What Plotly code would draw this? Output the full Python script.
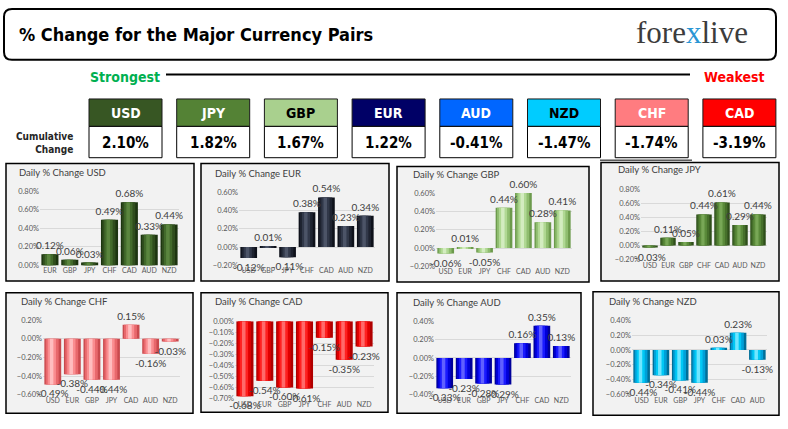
import plotly.graph_objects as go

W, H = 788, 429

# ---------------- data ----------------
currencies = ["USD", "JPY", "GBP", "EUR", "AUD", "NZD", "CHF", "CAD"]
cumulative = [2.10, 1.82, 1.67, 1.22, -0.41, -1.47, -1.74, -3.19]

usd_cats = ["EUR", "GBP", "JPY", "CHF", "CAD", "AUD", "NZD"]
usd_vals = [0.12, 0.06, 0.03, 0.49, 0.68, 0.33, 0.44]
eur_cats = ["USD", "GBP", "JPY", "CHF", "CAD", "AUD", "NZD"]
eur_vals = [-0.12, 0.01, -0.11, 0.38, 0.54, 0.23, 0.34]
gbp_cats = ["USD", "EUR", "JPY", "CHF", "CAD", "AUD", "NZD"]
gbp_vals = [-0.06, 0.01, -0.05, 0.44, 0.60, 0.28, 0.41]
jpy_cats = ["USD", "EUR", "GBP", "CHF", "CAD", "AUD", "NZD"]
jpy_vals = [-0.03, 0.11, 0.05, 0.44, 0.61, 0.29, 0.44]
chf_cats = ["USD", "EUR", "GBP", "JPY", "CAD", "AUD", "NZD"]
chf_vals = [-0.49, -0.38, -0.44, -0.44, 0.15, -0.16, -0.03]
cad_cats = ["USD", "EUR", "GBP", "JPY", "CHF", "AUD", "NZD"]
cad_vals = [-0.68, -0.54, -0.60, -0.61, -0.15, -0.35, -0.23]
aud_cats = ["USD", "EUR", "GBP", "JPY", "CHF", "CAD", "NZD"]
aud_vals = [-0.33, -0.23, -0.28, -0.29, 0.16, 0.35, 0.13]
nzd_cats = ["USD", "EUR", "GBP", "JPY", "CHF", "CAD", "AUD"]
nzd_vals = [-0.44, -0.34, -0.41, -0.44, 0.03, 0.23, -0.13]

# ---------------- styles ----------------
header_fill = ["#375623", "#548235", "#a9d08e", "#000066", "#0066ff", "#00ccff", "#ff7c80", "#ff0000"]
header_font = ["white", "white", "black", "white", "white", "black", "white", "white"]

COND = "Liberation Sans Narrow, DejaVu Sans Condensed, Roboto, sans-serif"
CHART = "Lato, Liberation Sans, sans-serif"


def X(px):
    return px / W


def Y(py):
    return 1 - py / H


panels = [
    dict(title="Daily % Change USD", cats=usd_cats, vals=usd_vals, box=(6, 163, 194, 283), tpos=(17, 172),
         px=(40, 179), py=(191, 267), rng=(0, 0.8), dt=0.2,
         cols=["#1c3410", "#2f4d1d", "#426a2b", "#5a853e"]),
    dict(title="Daily % Change EUR", cats=eur_cats, vals=eur_vals, box=(201, 163, 389, 283), tpos=(213, 173),
         px=(239, 375), py=(192, 267), rng=(-0.2, 0.6), dt=0.2,
         cols=["#0e111a", "#1e2330", "#313849", "#4c5467"]),
    dict(title="Daily % Change GBP", cats=gbp_cats, vals=gbp_vals, box=(397, 166, 589, 284), tpos=(411, 174),
         px=(436, 572), py=(193, 268), rng=(-0.2, 0.6), dt=0.2,
         cols=["#6c9a4c", "#8fbd6f", "#b0d893", "#d3ecc0"]),
    dict(title="Daily % Change JPY", cats=jpy_cats, vals=jpy_vals, box=(601, 162, 779, 283), tpos=(616, 169),
         px=(641, 767), py=(189, 261), rng=(-0.2, 0.8), dt=0.2,
         cols=["#2f4f1b", "#46702b", "#5a8a3a", "#78a756"]),
    dict(title="Daily % Change CHF", cats=chf_cats, vals=chf_vals, box=(6, 295, 193, 418), tpos=(19, 304),
         px=(43, 180), py=(323, 399), rng=(-0.6, 0.2), dt=0.2,
         cols=["#c94a4e", "#e8686c", "#fa8d90", "#ffbdbf"]),
    dict(title="Daily % Change CAD", cats=cad_cats, vals=cad_vals, box=(201, 295, 388, 417), tpos=(213, 304),
         px=(235, 374), py=(324, 403), rng=(-0.7, 0.0), dt=0.1,
         cols=["#b00000", "#e00000", "#ff2020", "#ff6a6a"]),
    dict(title="Daily % Change AUD", cats=aud_cats, vals=aud_vals, box=(397, 295, 581, 418), tpos=(411, 305),
         px=(435, 571), py=(324, 399), rng=(-0.4, 0.4), dt=0.2,
         cols=["#00009a", "#0000d8", "#1a1aff", "#6060ff"]),
    dict(title="Daily % Change NZD", cats=nzd_cats, vals=nzd_vals, box=(593, 294, 779, 420), tpos=(607, 304),
         px=(632, 767), py=(323, 399), rng=(-0.6, 0.4), dt=0.2,
         cols=["#006f98", "#00a0d8", "#00c8f5", "#70e6ff"]),
]

fig = go.Figure()
shapes = []
annotations = []


def rrect(x0, y0, x1, y1, r):
    pts = [("M", x0 + r, y0), ("L", x1 - r, y0), ("Q", x1, y0, x1, y0 + r), ("L", x1, y1 - r),
           ("Q", x1, y1, x1 - r, y1), ("L", x0 + r, y1), ("Q", x0, y1, x0, y1 - r), ("L", x0, y0 + r),
           ("Q", x0, y0, x0 + r, y0)]
    s = ""
    for p in pts:
        cmd = p[0]
        coords = p[1:]
        parts = []
        for i in range(0, len(coords), 2):
            parts.append(f"{X(coords[i]):.5f},{Y(coords[i+1]):.5f}")
        s += cmd + " " + " ".join(parts) + " "
    return s + "Z"


# header box
shapes.append(dict(type="path", path=rrect(4, 5, 776, 57, 8), xref="paper", yref="paper",
                   line=dict(color="black", width=2), fillcolor="white", layer="below"))
annotations.append(dict(text="<b>% Change for the Major Currency Pairs</b>", x=X(17), y=Y(31), xref="paper",
                        yref="paper", xanchor="left", yanchor="middle", showarrow=False,
                        font=dict(family=COND, size=18, color="black")))
annotations.append(dict(text="fore<span style='color:#2a96d4'>x</span>live", x=X(692), y=Y(29), xref="paper",
                        yref="paper", xanchor="center", yanchor="middle", showarrow=False,
                        font=dict(family="Liberation Serif, DejaVu Serif, serif", size=31, color="#3c3c3c")))

# strongest / weakest
annotations.append(dict(text="<b>Strongest</b>", x=X(125), y=Y(75), xref="paper", yref="paper",
                        xanchor="center", yanchor="middle", showarrow=False,
                        font=dict(family=COND, size=14, color="#00b050")))
annotations.append(dict(text="<b>Weakest</b>", x=X(734), y=Y(75), xref="paper", yref="paper",
                        xanchor="center", yanchor="middle", showarrow=False,
                        font=dict(family=COND, size=14, color="#ff0000")))
shapes.append(dict(type="line", x0=X(166), x1=X(690), y0=Y(72), y1=Y(72), xref="paper", yref="paper",
                   line=dict(color="black", width=2)))

# currency table
annotations.append(dict(text="<b>Cumulative<br>Change</b>", x=X(75), y=Y(142), xref="paper", yref="paper",
                        xanchor="right", yanchor="middle", align="right", showarrow=False,
                        font=dict(family=COND, size=10, color="#262626")))
cell_w, cell_step, cell_x0 = 73, 87.7, 89
for i, cur in enumerate(currencies):
    x0 = cell_x0 + i * cell_step
    x1 = x0 + cell_w
    shapes.append(dict(type="rect", x0=X(x0), x1=X(x1), y0=Y(125), y1=Y(97), xref="paper", yref="paper",
                       fillcolor=header_fill[i], line=dict(color="#1a1a1a", width=1)))
    shapes.append(dict(type="rect", x0=X(x0), x1=X(x1), y0=Y(157), y1=Y(125), xref="paper", yref="paper",
                       fillcolor="white", line=dict(color="black", width=1)))
    annotations.append(dict(text=f"<b>{cur}</b>", x=X((x0 + x1) / 2), y=Y(111.5), xref="paper", yref="paper",
                            xanchor="center", yanchor="middle", showarrow=False,
                            font=dict(family=COND, size=14, color=header_font[i])))
    annotations.append(dict(text=f"<b>{cumulative[i]:.2f}%</b>", x=X((x0 + x1) / 2), y=Y(141.5), xref="paper",
                            yref="paper", xanchor="center", yanchor="middle", showarrow=False,
                            font=dict(family=COND, size=15, color="black")))
shapes.append(dict(type="line", x0=X(600), x1=X(692), y0=Y(159.5), y1=Y(159.5), xref="paper", yref="paper",
                   line=dict(color="black", width=1)))

# ---------------- panels ----------------
layer_w = [0.86, 0.66, 0.42, 0.18]
layer_off = [-0.43, -0.36, -0.26, -0.15]
layout_axes = {}
for k, p in enumerate(panels):
    n = k + 1
    xa = "x" if n == 1 else f"x{n}"
    ya = "y" if n == 1 else f"y{n}"
    bx0, by0, bx1, by1 = p["box"]
    shapes.append(dict(type="rect", x0=X(bx0), x1=X(bx1), y0=Y(by1), y1=Y(by0), xref="paper", yref="paper",
                       fillcolor="#f2f2f2", line=dict(color="black", width=1.5), layer="below"))
    annotations.append(dict(text=p["title"], x=X(p["tpos"][0]), y=Y(p["tpos"][1]), xref="paper", yref="paper",
                            xanchor="left", yanchor="middle", showarrow=False,
                            font=dict(family=CHART, size=9.5, color="#404040")))
    for li in range(4):
        fig.add_trace(go.Bar(x=p["cats"], y=p["vals"], xaxis=xa, yaxis=ya, width=layer_w[li],
                             offset=layer_off[li], marker=dict(color=p["cols"][li], line=dict(width=0)),
                             showlegend=False, hoverinfo="skip"))
    fig.add_trace(go.Bar(x=p["cats"], y=p["vals"], xaxis=xa, yaxis=ya, width=0.86,
                         marker=dict(color="rgba(0,0,0,0)", line=dict(width=0)),
                         text=[f"{v:.2f}%" for v in p["vals"]], textposition="outside",
                         constraintext="none", cliponaxis=False,
                         textfont=dict(family=CHART, size=10, color="#404040"),
                         showlegend=False, hoverinfo="skip"))
    xkey = "xaxis" if n == 1 else f"xaxis{n}"
    ykey = "yaxis" if n == 1 else f"yaxis{n}"
    layout_axes[xkey] = dict(domain=[X(p["px"][0]), X(p["px"][1])], anchor=ya, showgrid=False,
                             showline=False, ticks="", tickangle=0,
                             tickfont=dict(family=CHART, size=7, color="#595959"), fixedrange=True)
    layout_axes[ykey] = dict(domain=[Y(p["py"][1]), Y(p["py"][0])], anchor=xa, range=list(p["rng"]),
                             dtick=p["dt"], tick0=0, tickformat=".2f", ticksuffix="%", showgrid=True,
                             gridcolor="#d9d9d9", gridwidth=1, zeroline=False, showline=False,
                             tickfont=dict(family=CHART, size=7.5, color="#595959"), fixedrange=True)

fig.update_layout(width=W, height=H, margin=dict(l=0, r=0, t=0, b=0), paper_bgcolor="white",
                  plot_bgcolor="rgba(0,0,0,0)", barmode="overlay", shapes=shapes, annotations=annotations,
                  showlegend=False, **layout_axes)

fig.write_html("out.html", config={"displayModeBar": False},
               post_script="document.body.style.margin='0px';document.body.style.overflow='hidden';")
